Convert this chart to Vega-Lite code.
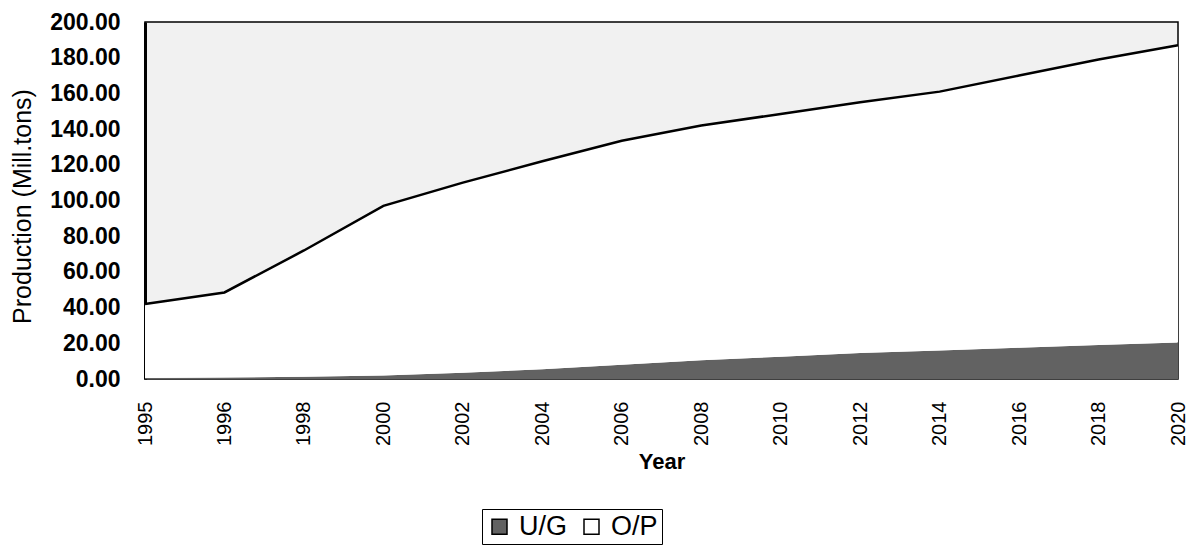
{
  "$schema": "https://vega.github.io/schema/vega-lite/v6.json",
  "width": 1033,
  "height": 357,
  "autosize": {"type": "none"},
  "padding": {"left": 145, "top": 22, "right": 19, "bottom": 169},
  "background": "white",
  "config": {
    "font": "Liberation Sans",
    "view": {"stroke": "black", "strokeWidth": 1.5, "fill": "#f1f1f1"},
    "axisY": {"labelOverlap": false}
  },
  "data": {
    "values": [
      {"year": "1995", "type": "U/G", "value": 0.5}, {"year": "1995", "type": "O/P", "value": 41.5},
      {"year": "1996", "type": "U/G", "value": 0.8}, {"year": "1996", "type": "O/P", "value": 47.7},
      {"year": "1998", "type": "U/G", "value": 1.2}, {"year": "1998", "type": "O/P", "value": 70.8},
      {"year": "2000", "type": "U/G", "value": 2.0}, {"year": "2000", "type": "O/P", "value": 95.0},
      {"year": "2002", "type": "U/G", "value": 3.5}, {"year": "2002", "type": "O/P", "value": 106.5},
      {"year": "2004", "type": "U/G", "value": 5.5}, {"year": "2004", "type": "O/P", "value": 116.5},
      {"year": "2006", "type": "U/G", "value": 8.0}, {"year": "2006", "type": "O/P", "value": 125.5},
      {"year": "2008", "type": "U/G", "value": 10.5}, {"year": "2008", "type": "O/P", "value": 131.5},
      {"year": "2010", "type": "U/G", "value": 12.5}, {"year": "2010", "type": "O/P", "value": 136.0},
      {"year": "2012", "type": "U/G", "value": 14.5}, {"year": "2012", "type": "O/P", "value": 140.5},
      {"year": "2014", "type": "U/G", "value": 16.0}, {"year": "2014", "type": "O/P", "value": 145.0},
      {"year": "2016", "type": "U/G", "value": 17.5}, {"year": "2016", "type": "O/P", "value": 152.5},
      {"year": "2018", "type": "U/G", "value": 19.0}, {"year": "2018", "type": "O/P", "value": 160.0},
      {"year": "2020", "type": "U/G", "value": 20.5}, {"year": "2020", "type": "O/P", "value": 166.5}
    ]
  },
  "transform": [
    {"stack": "value", "groupby": ["year"], "sort": [{"field": "type", "order": "descending"}], "as": ["y0", "y1"]}
  ],
  "encoding": {
    "x": {
      "field": "year", "type": "ordinal", "sort": null,
      "scale": {"type": "point", "padding": 0},
      "axis": {
        "title": "Year", "labelAngle": -90, "labelFontSize": 20, "labelColor": "black",
        "labelPadding": 22, "tickSize": 0, "domain": false, "grid": false,
        "titleFontSize": 22, "titleFontWeight": "bold", "titleColor": "black",
        "titleY": 82, "titleBaseline": "middle"
      }
    },
    "y": {
      "field": "y1", "type": "quantitative",
      "scale": {"domain": [0, 200], "nice": false, "zero": true},
      "axis": {
        "title": "Production (Mill.tons)", "format": ".2f",
        "values": [0, 20, 40, 60, 80, 100, 120, 140, 160, 180, 200],
        "labelOverlap": false,
        "labelFontSize": 23, "labelFontWeight": "bold", "labelColor": "black",
        "labelPadding": 25, "tickSize": 0, "grid": false,
        "domain": true, "domainColor": "black", "domainWidth": 3,
        "titleFontSize": 25, "titleFontWeight": "normal", "titleColor": "black",
        "titleX": -123, "titleY": 184, "titleAlign": "center", "titleBaseline": "middle", "titleAngle": -90
      }
    }
  },
  "layer": [
    {
      "mark": {"type": "area", "interpolate": "linear"},
      "encoding": {
        "y2": {"field": "y0"},
        "color": {
          "field": "type", "type": "nominal",
          "scale": {"domain": ["U/G", "O/P"], "range": ["#626262", "#ffffff"]},
          "legend": {
            "title": null, "orient": "none", "legendX": 337, "legendY": 487,
            "direction": "horizontal", "symbolType": "square", "symbolSize": 225,
            "symbolStrokeColor": "black", "symbolStrokeWidth": 1.5,
            "labelFontSize": 27, "labelColor": "black", "labelOffset": 6,
            "columnPadding": 10, "strokeColor": "black", "padding": 4, "fillColor": "white"
          }
        }
      }
    },
    {
      "transform": [{"filter": "datum.type === 'O/P'"}],
      "mark": {"type": "line", "color": "black", "strokeWidth": 2.5},
      "encoding": {}
    }
  ]
}
